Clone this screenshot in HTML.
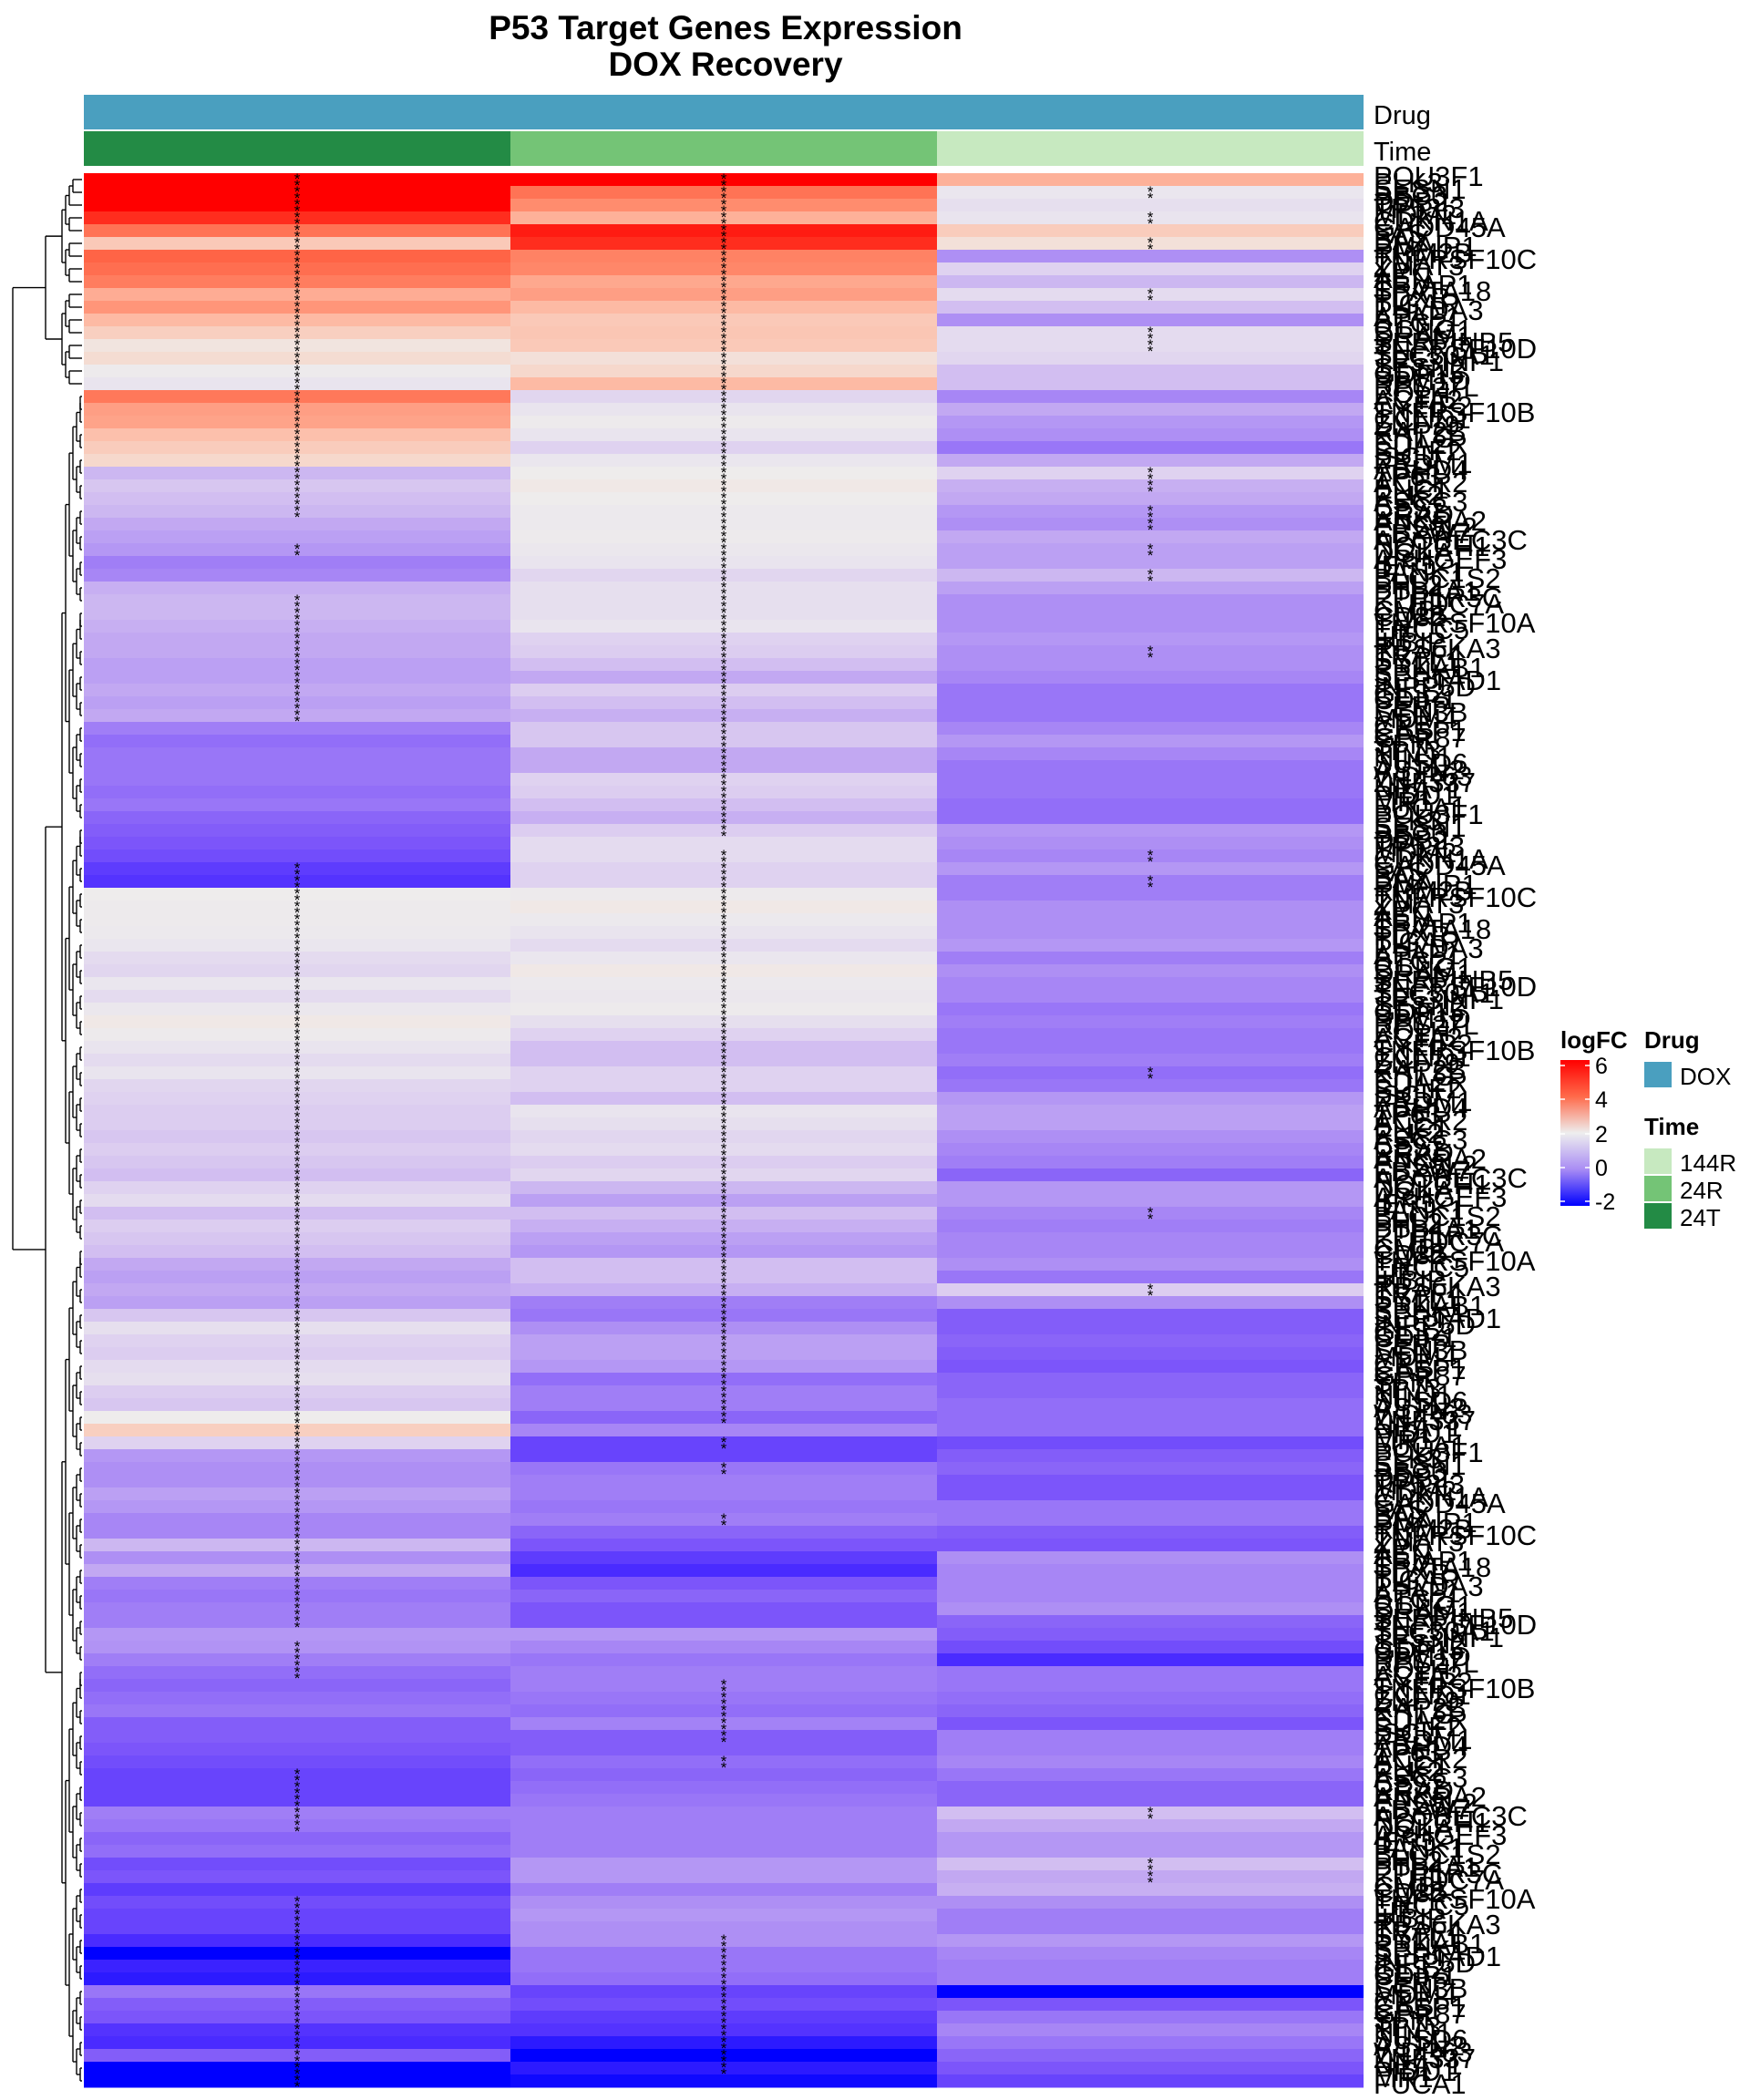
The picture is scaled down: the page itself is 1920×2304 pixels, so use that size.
<!DOCTYPE html>
<html><head><meta charset="utf-8">
<style>
html,body{margin:0;padding:0;background:#fff;}
body{width:1920px;height:2304px;overflow:hidden;font-family:"Liberation Sans",Arial,sans-serif;}
svg{display:block}
</style></head>
<body>
<svg id="chart" width="1920" height="2304" viewBox="0 0 1920 2304" xmlns="http://www.w3.org/2000/svg" font-family="Liberation Sans, Arial, sans-serif">
  <g font-weight="bold" font-size="37" text-anchor="middle">
    <text x="796" y="43">P53 Target Genes Expression</text>
    <text x="796" y="83">DOX Recovery</text>
  </g>
  <rect x="92" y="104" width="1404" height="38" fill="#4A9FBF"/>
  <text x="1507" y="136" font-size="29">Drug</text>
  <rect x="92" y="144" width="468" height="38" fill="#238B45"/>
  <rect x="560" y="144" width="468" height="38" fill="#74C476"/>
  <rect x="1028" y="144" width="468" height="38" fill="#C7E9C0"/>
  <text x="1507" y="176" font-size="29">Time</text>
  <g id="cells"></g>
  <g id="stars" font-size="17" text-anchor="middle"></g>
  <g id="dendro" stroke="#000" stroke-width="1.4" fill="none"></g>
  <g id="labels" font-size="31"></g>

  <g>
    <defs>
      <linearGradient id="lg" x1="0" y1="0" x2="0" y2="1">
        <stop offset="0" stop-color="#FF0000"/>
        <stop offset="0.25" stop-color="#FF6A4A"/>
        <stop offset="0.5" stop-color="#EEEEEE"/>
        <stop offset="0.75" stop-color="#A98CF4"/>
        <stop offset="1" stop-color="#0000FF"/>
      </linearGradient>
    </defs>
    <text x="1712" y="1150" font-size="26" font-weight="bold">logFC</text>
    <rect x="1712" y="1163" width="32" height="160" fill="url(#lg)"/>
    <g stroke="#fff" stroke-width="1.5">
      <line x1="1712" y1="1169" x2="1717" y2="1169"/><line x1="1739" y1="1169" x2="1744" y2="1169"/>
      <line x1="1712" y1="1206" x2="1717" y2="1206"/><line x1="1739" y1="1206" x2="1744" y2="1206"/>
      <line x1="1712" y1="1244" x2="1717" y2="1244"/><line x1="1739" y1="1244" x2="1744" y2="1244"/>
      <line x1="1712" y1="1281" x2="1717" y2="1281"/><line x1="1739" y1="1281" x2="1744" y2="1281"/>
      <line x1="1712" y1="1318" x2="1717" y2="1318"/><line x1="1739" y1="1318" x2="1744" y2="1318"/>
    </g>
    <g font-size="25">
      <text x="1750" y="1178">6</text>
      <text x="1750" y="1215">4</text>
      <text x="1750" y="1253">2</text>
      <text x="1750" y="1290">0</text>
      <text x="1750" y="1327">-2</text>
    </g>
  </g>
  <g>
    <text x="1804" y="1150" font-size="26" font-weight="bold">Drug</text>
    <rect x="1804" y="1165" width="30" height="28" fill="#4A9FBF"/>
    <text x="1843" y="1190" font-size="26">DOX</text>
  </g>
  <g>
    <text x="1804" y="1245" font-size="26" font-weight="bold">Time</text>
    <rect x="1804" y="1260" width="30" height="28" fill="#C7E9C0"/>
    <text x="1843" y="1285" font-size="26">144R</text>
    <rect x="1804" y="1290" width="30" height="28" fill="#74C476"/>
    <text x="1843" y="1315" font-size="26">24R</text>
    <rect x="1804" y="1320" width="30" height="28" fill="#238B45"/>
    <text x="1843" y="1345" font-size="26">24T</text>
  </g>
</svg>
<script>
const columns = ["24T","24R","144R"];
const logfc24T = [6.5,6,6,5.5,4.5,2.5,4.8,4.6,4.3,3.3,3.8,3,2.3,1.7,1.9,1.4,1.0,4.4,3.6,3.5,2.8,2.4,2.0,0.2,0.4,0.3,0.2,0,-0.1,-0.2,-0.5,-0.4,0.1,0.2,0.2,0.1,0,0,
-0.1,-0.1,0,-0.1,0,-0.5,-0.7,-0.6,-0.6,-0.6,-0.7,-0.6,-0.8,-0.9,-1.0,-1.1,-1.3,-1.4,1.5,1.4,1.4,1.3,1.1,0.8,0.7,1.1,0.8,1.2,1.6,1.4,1.0,0.8,1.0,0.7,0.6,0.5,0.5,0.4,
0.5,0.4,0.3,0.6,0.8,0.3,0.5,0.4,0.3,0,-0.1,0,-0.1,0.4,0.9,0.6,0.5,0.8,0.9,0.5,0.4,1.5,2.3,0.6,-0.2,-0.3,-0.3,-0.1,-0.2,-0.4,-0.4,0.2,-0.3,0,-0.5,-0.6,-0.5,-0.5,
-0.2,-0.25,-0.5,-0.7,-0.8,-0.7,-0.6,-0.9,-0.9,-1.0,-1.1,-1.2,-1.2,-1.2,-0.5,-0.6,-0.8,-0.7,-1.1,-1.0,-1.3,-1.1,-1.2,-1.2,-1.5,-2.0,-1.6,-1.7,-0.6,-0.9,-1.0,-1.4,-1.5,-0.9,-2.0,-2.0];
const logfc24R = [6.5,4.5,4,3.2,5.7,5.5,4.2,4.1,3.4,3.6,3.0,2.5,2.6,2.5,1.8,2.0,3.0,0.7,1.0,1.4,1.0,0.6,1.1,1.5,1.6,1.5,1.3,1.3,1.4,1.2,1.0,0.7,0.9,0.9,0.9,1.0,0.6,0.5,
0.3,0,0.5,0.3,0.1,0.4,0.4,0,0,0.6,0.5,0.3,0.1,0.5,0.8,0.8,0.6,0.6,1.4,1.6,1.3,1.0,0.8,1.1,1.6,1.3,1.2,1.4,0.9,0.6,0.3,0.3,0.6,0.6,0.3,1.0,0.9,0.7,
0.8,0.5,0.7,0.2,-0.1,0.3,0.1,-0.1,-0.2,0.3,0.3,0.1,-0.5,-0.6,-0.3,-0.1,-0.1,-0.2,-0.7,-0.5,-0.5,-0.8,-0.4,-1.2,-1.2,-0.6,-0.5,-0.5,-0.6,-0.5,-0.8,-1.0,-1.3,-1.5,-1.0,-0.8,-1.0,-1.0,
-0.2,-0.4,-0.6,-0.5,-0.5,-0.6,-0.7,-0.45,-0.9,-0.9,-0.7,-0.8,-0.7,-0.6,-0.5,-0.5,-0.5,-0.5,-0.2,-0.2,-0.5,-0.3,-0.2,-0.3,-0.3,-0.6,-0.6,-0.7,-1.2,-1.1,-1.3,-1.4,-1.7,-2.1,-1.7,-1.9];
const logfc144R = [3.2,1.1,0.9,1.0,2.4,1.8,-0.3,0.6,0.2,0.8,0.3,-0.3,0.8,0.8,0.7,0.3,0.3,-0.4,0,-0.2,-0.3,-0.6,0,0.6,0.1,0,-0.2,-0.3,0,-0.1,-0.1,0.2,-0.1,-0.3,-0.3,-0.3,-0.2,-0.3,
-0.3,-0.4,-0.6,-0.6,-0.6,-0.4,-0.2,-0.4,-0.6,-0.6,-0.6,-0.7,-0.7,-0.2,-0.3,-0.4,-0.2,-0.5,-0.5,-0.3,-0.3,-0.3,-0.2,-0.5,-0.3,-0.4,-0.4,-0.6,-0.5,-0.6,-0.6,-0.5,-0.7,-0.6,-0.2,-0.1,-0.1,-0.3,
-0.4,-0.5,-0.8,-0.2,-0.2,-0.4,-0.5,-0.4,-0.4,-0.3,-0.6,0.5,-0.3,-0.9,-0.9,-0.8,-0.9,-1.0,-0.8,-0.8,-0.7,-0.7,-0.7,-1.1,-0.9,-0.8,-1.0,-1.0,-0.6,-0.6,-0.9,-1.0,-0.3,-0.4,-0.4,-0.4,-0.3,-0.8,
-0.9,-1.1,-1.5,-0.6,-0.6,-0.7,-0.8,-1.0,-0.5,-0.5,-0.4,-0.6,-0.8,-0.8,0.3,0,-0.2,-0.2,0.3,0,0.1,-0.3,-0.5,-0.5,-0.2,-0.4,-0.5,-0.5,-2.1,-1.0,-0.6,-0.4,-0.6,-0.8,-1.0,-1.2];
const sig24T = "111111111111111111111111111001000111111111100000000000111111111111111111111111111111111111111111111111111111111111011100000001111100000111111111111111111";
const sig24R = "111111111111111111111111111111111111111111111111111101111111111111111111111111111111111111111111110101000100000000000011111010000000000000111111111110111111";
const sig144R = "010101000100110000000001101101010000010000000000000001010000000000000010000000000100000100000000000000000000000000000000000000001000110000000000000000000000";
const geneNames = ["POU3F1","PLK3","SESN1","BBC3","DDB2","TP53I3","MDM2","CDKN1A","GADD45A","FAS","BAX","PMAIP1","RRM2B","TNFRSF10C","ZMAT3","XPC","AEN","TRIAP1","SPATA18","FDXR","TIGAR","PHLDA3","APAF1","BTG2","CCNG1","DRAM1","SERPINB5","TNFRSF10D","SLC30A1","TP53INP1","SESN2","GDF15","PPM1D","RPS27L","POLH","ACTA2","CYFIP2","TNFRSF10B","CCND1","ZNF79","RAP2B","KITLG","EDA2R","SULF2","ISCU","PRDM1","ABHD4","TP63","ACER2","ENC1","PLK2","ASCC3","CES2","RRAD","ANKRA2","EPS8L2","FBXW7","APOBEC3C","NOTCH1","DGKA","ARHGEF3","IER5","PANK1","BLOC1S2","FHL2","PTP4A1","PPP1R3C","KLHDC7A","CMBL","CD82","TNFRSF10A","ERCC5","LIF","IKBIP","RPS6KA3","TRAF4","SYTL1","PRKAB1","SPHK1","SERTAD1","INPP5D","GLS2","CDIP1","PERP","SCN3B","MDM4","CPE","CASP1","GPR87","SFN","TP73","NINJ1","SUSD6","ASTN2","WDR63","ZNF337","NEAT1","PIDD1","MR1","FUCA1"];
</script>
<script>
const X0 = 92, COLW = 468, Y0 = 190, ROWH = 14;
function xCol(j){ return X0 + j*COLW; }
function yRow(i){ return Y0 + i*ROWH; }
const stops = [[-2,[0,0,255]],[-1.5,[74,43,255]],[-1,[124,85,250]],[-0.5,[160,126,246]],[0,[194,168,242]],[0.5,[220,205,240]],[1,[233,228,238]],[1.5,[238,236,236]],[2,[246,216,204]],[3,[253,186,164]],[4,[255,140,110]],[5,[255,90,60]],[6,[255,0,0]]];
function colorScale(v){
  if (v <= stops[0][0]) return "rgb(0,0,255)";
  for (let k=1;k<stops.length;k++){
    if (v <= stops[k][0]){
      const a=stops[k-1], b=stops[k], t=(v-a[0])/(b[0]-a[0]);
      const c=a[1].map((q,i)=>Math.round(q+(b[1][i]-q)*t));
      return "rgb("+c.join(",")+")";
    }
  }
  return "rgb(255,0,0)";
}
const NS="http://www.w3.org/2000/svg";
const series=[logfc24T,logfc24R,logfc144R];
const sigs=[sig24T,sig24R,sig144R];
const cells=document.getElementById("cells");
const starsG=document.getElementById("stars");
series.forEach((vals,j)=>{
  vals.forEach((v,i)=>{
    const r=document.createElementNS(NS,"rect");
    r.setAttribute("x",xCol(j)); r.setAttribute("y",yRow(i));
    r.setAttribute("width",COLW); r.setAttribute("height",ROWH+0.5);
    r.setAttribute("fill",colorScale(v));
    
    
    cells.appendChild(r);
    if (sigs[j][i]==="1"){
      for (let h=0;h<2;h++){
        const s=document.createElementNS(NS,"text");
        s.setAttribute("x",xCol(j)+COLW/2); s.setAttribute("y",yRow(i)+h*7+12);
        s.textContent="*";
        
        
        starsG.appendChild(s);
      }
    }
  });
});
const labelsG=document.getElementById("labels");
const nSub = logfc24T.length*2;
for (let i=0;i<nSub;i++){
  const t=document.createElementNS(NS,"text");
  t.setAttribute("x",1507); t.setAttribute("y",Y0+i*7+14);
  t.textContent=geneNames[i%geneNames.length];
  
  
  labelsG.appendChild(t);
}
const dendro=document.getElementById("dendro");
function line(x1,y1,x2,y2){
  const l=document.createElementNS(NS,"path");
  l.setAttribute("d","M"+x1+","+y1+"L"+x2+","+y2);
  dendro.appendChild(l);
}
function build(a,b,depth,splitAt){
  if (b-a<1) return {y:Y0+(a+0.5)*ROWH, x:90};
  const m = splitAt!==undefined ? splitAt : Math.floor((a+b)/2);
  const L=build(a,m,depth+1), R=build(m+1,b,depth+1);
  const x = depth===0?14:(depth===1?50:Math.min(88, 60+depth*4));
  line(x,L.y,L.x,L.y); line(x,R.y,R.x,R.y); line(x,L.y,x,R.y);
  return {y:(L.y+R.y)/2,x:x};
}
const root=build(0,logfc24T.length-1,0,16);
</script>
</body></html>
